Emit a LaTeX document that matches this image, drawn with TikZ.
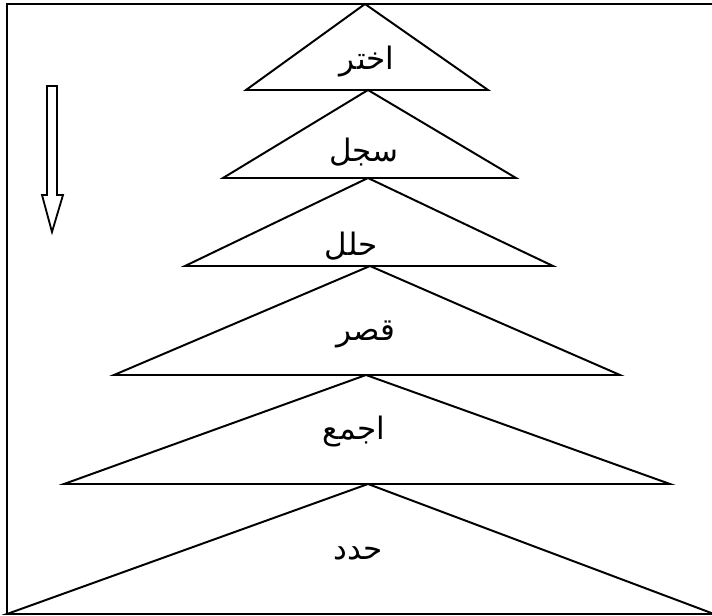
\documentclass[tikz,border=0pt]{standalone}
\usepackage{fontspec}
\usepackage{tikz}
\usetikzlibrary{positioning}
\TeXXeTstate=1
\newfontfamily\arabicfont[Script=Arabic]{DejaVu Sans}
\definecolor{mydark}{RGB}{0,0,0}
\tikzset{
  frameline/.style={line width=2pt, color=mydark},
  triline/.style={line width=1.4pt, color=mydark, line join=miter},
  steplabel/.style={font=\arabicfont\fontsize{22}{26}\selectfont, inner sep=0pt},
  hollowarrow/.style={line width=1.3pt, color=mydark, fill=white}
}

\begin{document}
\begin{tikzpicture}[x=0.025cm, y=-0.025cm]
  \useasboundingbox (0,0) rectangle (712,616);
  % ── Outer frame (right side runs off the page) ─────────────────────────────
  \draw[frameline] (716,4) -- (7,4) -- (7,614) -- (716,614);

  % ── Stacked triangles: apex x, apex y, base y, left x, right x ───────────
  \foreach \ax/\ay/\by/\lx/\rx in {365/4/90/246/488, 368/90/178/223/516,
      368/178/266/185/553, 370/266/375/114/620, 366/375/484/64/670,
      368/484/614/7/714}
    \draw[triline] (\lx,\by) -- (\ax,\ay) -- (\rx,\by) -- cycle;

  % ── Step labels ───────────────────────────────────────────────────────────
  \node[steplabel] (choose)  at (367,62)  {\beginR اختر\endR};
  \node[steplabel] (record)  at (364,152) {\beginR سجل\endR};
  \node[steplabel] (analyse) at (351,246) {\beginR حلل\endR};
  \node[steplabel] (shorten) at (366,334) {\beginR قصر\endR};
  \node[steplabel] (collect) at (354,432) {\beginR اجمع\endR};
  \node[steplabel] (define)  at (358,553) {\beginR حدد\endR};

  % ── Hollow down arrow on the left ─────────────────────────────────────────
  \draw[hollowarrow] (47,86) -- (57,86) -- (57,195) -- (63,195) -- (52,232)
    -- (42,195) -- (47,195) -- cycle;
\end{tikzpicture}
\end{document}
